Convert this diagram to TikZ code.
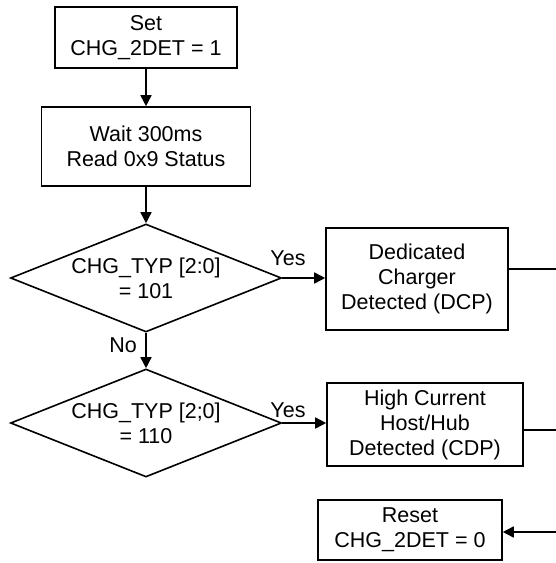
\documentclass[tikz,border=0pt]{standalone}
\usepackage{fontspec}
\setmainfont{Liberation Sans}
\usetikzlibrary{arrows.meta,shapes.geometric}

\begin{document}
\begin{tikzpicture}[x=1pt,y=-1pt,
  line width=1.6pt,
  every node/.style={font=\fontsize{21.5}{25}\selectfont},
  box/.style={draw,align=center,inner sep=0pt},
  dec/.style={draw,diamond,aspect=2.5,align=center,inner sep=0pt,minimum width=271pt,minimum height=108pt},
  lbl/.style={inner sep=1pt},
  >={Triangle[length=11pt,width=11pt]}]
\useasboundingbox (0,0) rectangle (556,563);
\node[box,minimum width=182pt,minimum height=61pt] (set) at (146,37.5) {Set\\CHG\_2DET = 1};
\node[box,minimum width=209pt,minimum height=79pt] (wait) at (146,146.5) {Wait 300ms\\Read 0x9 Status};
\node[dec] (dec1) at (146,278) {CHG\_TYP [2:0]\\= 101};
\node[box,minimum width=182pt,minimum height=102pt] (dcp) at (417,279) {Dedicated\\Charger\\Detected (DCP)};
\node[dec] (dec2) at (146,423) {CHG\_TYP [2;0]\\= 110};
\node[box,minimum width=196pt,minimum height=83pt] (cdp) at (425,424.5) {High Current\\Host/Hub\\Detected (CDP)};
\node[box,minimum width=184pt,minimum height=60pt] (reset) at (410,530) {Reset\\CHG\_2DET = 0};
\node[lbl] (yes1) at (288,258) {Yes};
\node[lbl] (no1) at (123,345) {No};
\node[lbl] (yes2) at (288,410) {Yes};
\coordinate (dcpout) at (556,269);
\coordinate (cdpout) at (567,430);
\coordinate (resetin) at (560,532);
\draw[->] (set) -- (wait);
\draw[->] (wait) -- (dec1);
\draw[->] (dec1.east) -- (dec1.east -| dcp.west);
\draw[->] (dec1) -- (dec2);
\draw[->] (dec2.east) -- (dec2.east -| cdp.west);
\draw (dcpout -| dcp.east) -- (dcpout);
\draw[->] (cdpout -| cdp.east) -- (cdpout);
\draw[->] (resetin) -- (resetin -| reset.east);
\end{tikzpicture}
\end{document}
